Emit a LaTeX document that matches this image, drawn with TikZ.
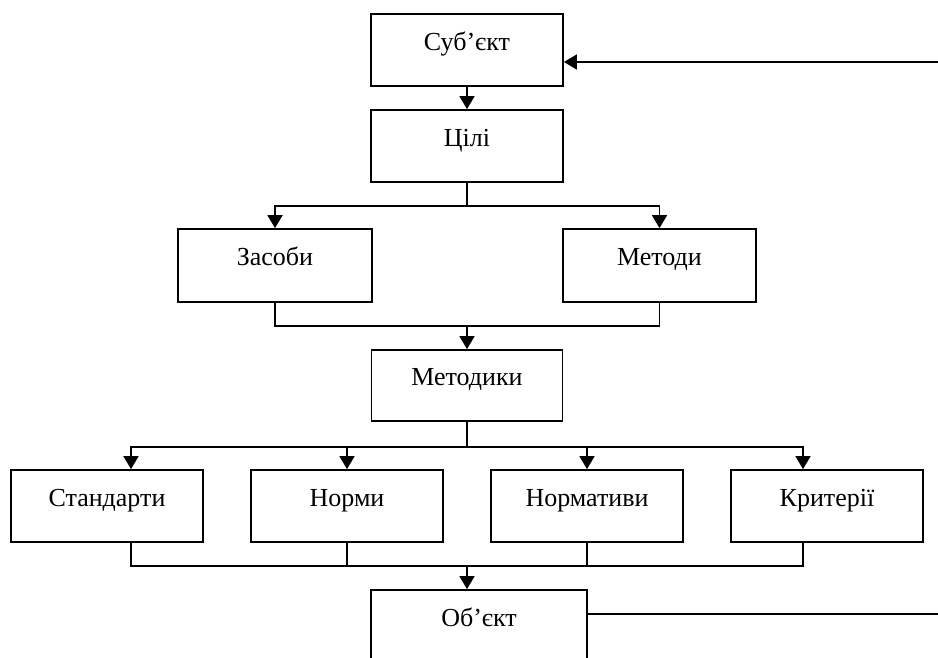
\documentclass[tikz,border=0pt]{standalone}
\usepackage{fontspec}
\setmainfont{Liberation Serif}
\usetikzlibrary{arrows.meta,calc}
\begin{document}
\begin{tikzpicture}[x=1pt,y=-1pt,
  line width=1.8pt,
  boxnode/.style={draw,rectangle,inner sep=0pt,minimum width=192pt,minimum height=72pt,
    text height=18pt,text depth=18pt,font=\fontsize{26}{30}\selectfont},
  arr/.style={-{Triangle[length=13pt,width=15pt]}}]
\useasboundingbox (0,0) rectangle (938,657);
\clip (0,0) rectangle (938,657);
% boxes
\node[boxnode] (subj) at (467,50) {Суб’єкт};
\node[boxnode] (goal) at (467,146) {Цілі};
\node[boxnode,minimum width=194pt,minimum height=73pt] (means) at (275,265.5) {Засоби};
\node[boxnode,minimum width=193pt,minimum height=73pt] (meth) at (659.5,265.5) {Методи};
\node[boxnode,minimum width=191pt,minimum height=71pt] (metk) at (467,385.5) {Методики};
\node[boxnode] (std) at (107,506) {Стандарти};
\node[boxnode] (norm) at (347,506) {Норми};
\node[boxnode] (nrmt) at (587,506) {Нормативи};
\node[boxnode] (crit) at (827,506) {Критерії};
\node[boxnode,minimum width=216pt] (obj) at (479,626) {Об’єкт};
% helper coordinates
\coordinate (rin) at (938,62);
\coordinate (rout) at (938,614);
\coordinate (j1) at (467,206);
\coordinate (j2) at (467,326);
\coordinate (j3) at (467,447);
\coordinate (j4) at (467,566);
\coordinate (stdp) at ($(std.north)+(24,0)$);
\coordinate (stdq) at ($(std.south)+(24,0)$);
\coordinate (critp) at ($(crit.north)+(-24,0)$);
\coordinate (critq) at ($(crit.south)+(-24,0)$);
% connectors
\draw[arr] (rin) -- (rin -| subj.east);
\draw[arr] (subj.south) -- (goal.north);
\draw (goal.south) -- (j1);
\draw[arr] (j1) -| (means.north);
\draw[arr] (j1) -| (meth.north);
\draw (means.south) |- (j2) -| (meth.south);
\draw[arr] (j2) -- (metk.north);
\draw (metk.south) -- (j3);
\draw[arr] (j3) -| (stdp);
\draw[arr] (j3) -| (critp);
\draw[arr] (j3 -| norm.north) -- (norm.north);
\draw[arr] (j3 -| nrmt.north) -- (nrmt.north);
\draw (stdq) |- (j4) -| (critq);
\draw (norm.south) -- (j4 -| norm.south);
\draw (nrmt.south) -- (j4 -| nrmt.south);
\draw[arr] (j4) -- (j4 |- obj.north);
\draw (rout -| obj.east) -- (rout);
\end{tikzpicture}
\end{document}
